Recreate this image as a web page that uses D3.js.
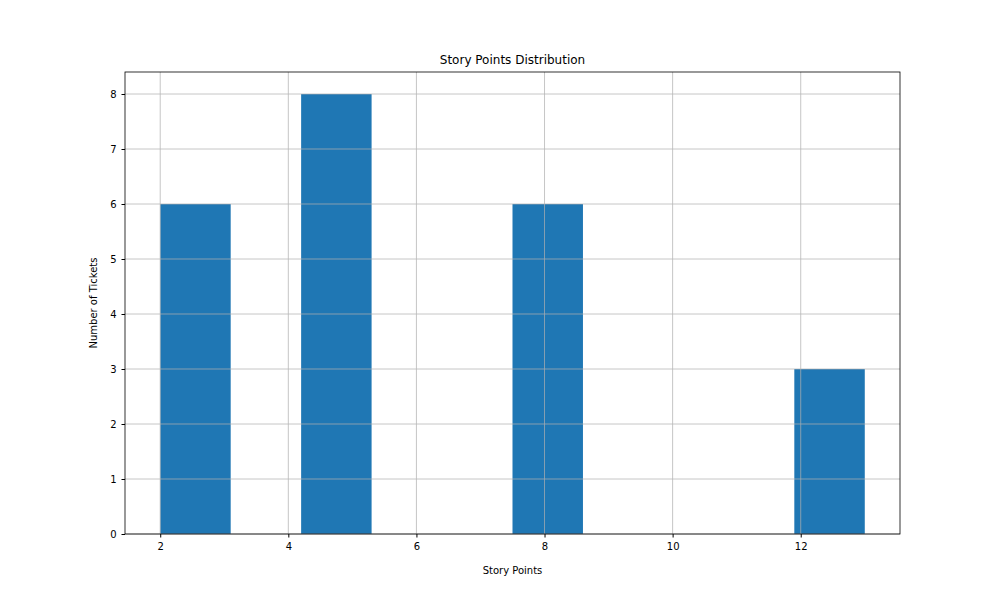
<!DOCTYPE html>
<html>
<head>
<meta charset="utf-8">
<script src="https://cdn.jsdelivr.net/npm/d3@7"></script>
<style>
  body { margin: 0; background: #fff; }
  text { font-family: "DejaVu Sans", sans-serif; }
</style>
</head>
<body>
<svg id="chart"></svg>
<script>
// Histogram bins (10 bins from 2 to 13)
const binEdges = [2, 3.1, 4.2, 5.3, 6.4, 7.5, 8.6, 9.7, 10.8, 11.9, 13];
const binCounts = [6, 0, 8, 0, 0, 6, 0, 0, 0, 3];
const xTicks = [2, 4, 6, 8, 10, 12];
const yTicks = [0, 1, 2, 3, 4, 5, 6, 7, 8];

const w = 1000, h = 600;
const mLeft = 125, mRight = 900, mTop = 72, mBottom = 534;

const svg = d3.select('#chart').attr('width', w).attr('height', h);

const scaleX = d3.scaleLinear().domain([1.45, 13.55]).range([mLeft, mRight]);
const scaleY = d3.scaleLinear().domain([0, 8.4]).range([mBottom, mTop]);

// Bars
svg.append('g').selectAll('rect')
    .data(binCounts.map((c, i) => ({x0: binEdges[i], x1: binEdges[i + 1], c})).filter(d => d.c > 0))
    .join('rect')
    .attr('x', d => scaleX(d.x0))
    .attr('width', d => scaleX(d.x1) - scaleX(d.x0))
    .attr('y', d => scaleY(d.c))
    .attr('height', d => scaleY(0) - scaleY(d.c))
    .attr('fill', '#1f77b4');

// Grid (drawn over bars, like the reference)
const grid = svg.append('g').attr('stroke', '#b0b0b0').attr('stroke-width', 0.8).attr('opacity', 0.9);
grid.selectAll('.gx').data(xTicks).join('line')
    .attr('x1', d => scaleX(d)).attr('x2', d => scaleX(d))
    .attr('y1', mTop).attr('y2', mBottom);
grid.selectAll('.gy').data(yTicks).join('line')
    .attr('y1', d => scaleY(d)).attr('y2', d => scaleY(d))
    .attr('x1', mLeft).attr('x2', mRight);

// Axes
const xAxis = d3.axisBottom(scaleX).tickValues(xTicks).tickSize(3.5).tickPadding(5);
const yAxis = d3.axisLeft(scaleY).tickValues(yTicks).tickSize(3.5).tickPadding(5);

const gx = svg.append('g').attr('transform', `translate(0, ${mBottom})`).call(xAxis);
const gy = svg.append('g').attr('transform', `translate(${mLeft}, 0)`).call(yAxis);
[gx, gy].forEach(g => {
    g.select('.domain').remove();
    g.selectAll('text').attr('font-size', 10).attr('fill', '#000');
    g.selectAll('line').attr('stroke', '#000');
});

// Frame
svg.append('rect')
    .attr('x', mLeft).attr('y', mTop)
    .attr('width', mRight - mLeft).attr('height', mBottom - mTop)
    .attr('fill', 'none').attr('stroke', '#000').attr('stroke-width', 0.8);

// Labels
svg.append('text').attr('x', (mLeft + mRight) / 2).attr('y', 64)
    .attr('text-anchor', 'middle').attr('font-size', 12).text('Story Points Distribution');
svg.append('text').attr('x', (mLeft + mRight) / 2).attr('y', 574)
    .attr('text-anchor', 'middle').attr('font-size', 10).text('Story Points');
svg.append('text').attr('transform', `translate(97, ${(mTop + mBottom) / 2}) rotate(-90)`)
    .attr('text-anchor', 'middle').attr('font-size', 10).text('Number of Tickets');
</script>
</body>
</html>
